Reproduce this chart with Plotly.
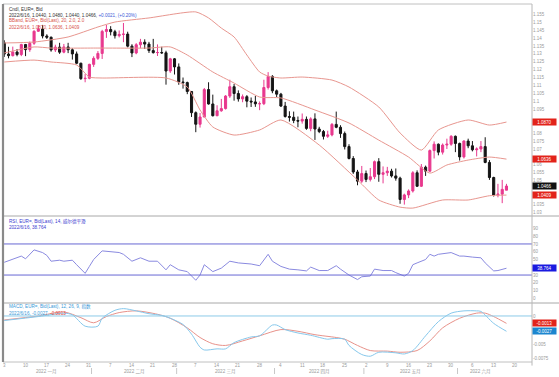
import numpy as np
import plotly.graph_objects as go

# ---------------- data ----------------
DATES = """2022-01-03 2022-01-04 2022-01-05 2022-01-06 2022-01-07 2022-01-10 2022-01-11 2022-01-12 2022-01-13 2022-01-14
2022-01-17 2022-01-18 2022-01-19 2022-01-20 2022-01-21 2022-01-24 2022-01-25 2022-01-26 2022-01-27 2022-01-28
2022-01-31 2022-02-01 2022-02-02 2022-02-03 2022-02-04 2022-02-07 2022-02-08 2022-02-09 2022-02-10 2022-02-11
2022-02-14 2022-02-15 2022-02-16 2022-02-17 2022-02-18 2022-02-21 2022-02-22 2022-02-23 2022-02-24 2022-02-25
2022-02-28 2022-03-01 2022-03-02 2022-03-03 2022-03-04 2022-03-07 2022-03-08 2022-03-09 2022-03-10 2022-03-11
2022-03-14 2022-03-15 2022-03-16 2022-03-17 2022-03-18 2022-03-21 2022-03-22 2022-03-23 2022-03-24 2022-03-25
2022-03-28 2022-03-29 2022-03-30 2022-03-31 2022-04-01 2022-04-04 2022-04-05 2022-04-06 2022-04-07 2022-04-08
2022-04-11 2022-04-12 2022-04-13 2022-04-14 2022-04-15 2022-04-18 2022-04-19 2022-04-20 2022-04-21 2022-04-22
2022-04-25 2022-04-26 2022-04-27 2022-04-28 2022-04-29 2022-05-02 2022-05-03 2022-05-04 2022-05-05 2022-05-06
2022-05-09 2022-05-10 2022-05-11 2022-05-12 2022-05-13 2022-05-16 2022-05-17 2022-05-18 2022-05-19 2022-05-20
2022-05-23 2022-05-24 2022-05-25 2022-05-26 2022-05-27 2022-05-30 2022-05-31 2022-06-01 2022-06-02 2022-06-03
2022-06-06 2022-06-07 2022-06-08 2022-06-09 2022-06-10 2022-06-13 2022-06-14 2022-06-15 2022-06-16""".split()

OPEN = [1.1370, 1.1299, 1.1289, 1.1312, 1.1296, 1.1359, 1.1327, 1.1367, 1.1443, 1.1457,
        1.1413, 1.1405, 1.1325, 1.1343, 1.1311, 1.1344, 1.1326, 1.1300, 1.1241, 1.1144,
        1.1146, 1.1234, 1.1272, 1.1303, 1.1442, 1.1454, 1.1440, 1.1415, 1.1423, 1.1425,
        1.1349, 1.1306, 1.1358, 1.1374, 1.1362, 1.1321, 1.1308, 1.1309, 1.1307, 1.1192,
        1.1269, 1.1218, 1.1123, 1.1119, 1.1063, 1.0929, 1.0856, 1.0902, 1.1075, 1.0984,
        1.0910, 1.0941, 1.0955, 1.1034, 1.1093, 1.1050, 1.1016, 1.1030, 1.1002, 1.0997,
        1.0985, 1.0986, 1.1088, 1.1158, 1.1067, 1.1046, 1.0971, 1.0905, 1.0900, 1.0880,
        1.0876, 1.0887, 1.0830, 1.0890, 1.0826, 1.0810, 1.0780, 1.0789, 1.0855, 1.0837,
        1.0797, 1.0715, 1.0640, 1.0555, 1.0497, 1.0545, 1.0508, 1.0525, 1.0620, 1.0540,
        1.0550, 1.0560, 1.0530, 1.0516, 1.0381, 1.0410, 1.0435, 1.0550, 1.0465, 1.0585,
        1.0560, 1.0690, 1.0730, 1.0680, 1.0725, 1.0730, 1.0780, 1.0735, 1.0650, 1.0750,
        1.0720, 1.0695, 1.0700, 1.0715, 1.0615, 1.0520, 1.0410, 1.0415, 1.0440]
HIGH = [1.1386, 1.1345, 1.1346, 1.1331, 1.1364, 1.1363, 1.1378, 1.1449, 1.1482, 1.1483,
        1.1424, 1.1410, 1.1358, 1.1370, 1.1363, 1.1370, 1.1336, 1.1315, 1.1245, 1.1173,
        1.1238, 1.1285, 1.1318, 1.1452, 1.1483, 1.1475, 1.1452, 1.1448, 1.1495, 1.1440,
        1.1361, 1.1368, 1.1395, 1.1392, 1.1376, 1.1395, 1.1360, 1.1345, 1.1320, 1.1275,
        1.1274, 1.1240, 1.1151, 1.1125, 1.1065, 1.0937, 1.0927, 1.1085, 1.1121, 1.1043,
        1.0976, 1.1016, 1.1040, 1.1137, 1.1110, 1.1070, 1.1044, 1.1040, 1.1025, 1.1035,
        1.1000, 1.1137, 1.1185, 1.1166, 1.1075, 1.1054, 1.0997, 1.0938, 1.0936, 1.0905,
        1.0924, 1.0905, 1.0900, 1.0925, 1.0840, 1.0820, 1.0815, 1.0864, 1.0936, 1.0850,
        1.0810, 1.0730, 1.0655, 1.0568, 1.0593, 1.0564, 1.0580, 1.0627, 1.0642, 1.0590,
        1.0587, 1.0575, 1.0577, 1.0525, 1.0418, 1.0445, 1.0560, 1.0565, 1.0605, 1.0595,
        1.0697, 1.0748, 1.0735, 1.0735, 1.0765, 1.0787, 1.0785, 1.0740, 1.0755, 1.0765,
        1.0750, 1.0710, 1.0750, 1.0774, 1.0630, 1.0525, 1.0480, 1.0505, 1.0480]
LOW = [1.1281, 1.1272, 1.1284, 1.1285, 1.1286, 1.1286, 1.1313, 1.1357, 1.1439, 1.1398,
       1.1394, 1.1314, 1.1312, 1.1300, 1.1304, 1.1305, 1.1264, 1.1235, 1.1136, 1.1121,
       1.1140, 1.1218, 1.1262, 1.1268, 1.1401, 1.1417, 1.1397, 1.1404, 1.1374, 1.1341,
       1.1280, 1.1298, 1.1336, 1.1331, 1.1306, 1.1302, 1.1287, 1.1300, 1.1106, 1.1180,
       1.1170, 1.1105, 1.1081, 1.1046, 1.0902, 1.0806, 1.0835, 1.0900, 1.0980, 1.0905,
       1.0907, 1.0935, 1.0949, 1.1022, 1.1005, 1.0999, 1.0995, 1.0963, 1.0965, 1.0966,
       1.0945, 1.0977, 1.1075, 1.1052, 1.1028, 1.0965, 1.0898, 1.0873, 1.0863, 1.0837,
       1.0860, 1.0821, 1.0812, 1.0757, 1.0800, 1.0760, 1.0770, 1.0780, 1.0831, 1.0770,
       1.0697, 1.0634, 1.0543, 1.0471, 1.0486, 1.0491, 1.0495, 1.0510, 1.0493, 1.0483,
       1.0530, 1.0520, 1.0500, 1.0354, 1.0349, 1.0390, 1.0425, 1.0460, 1.0460, 1.0530,
       1.0555, 1.0640, 1.0660, 1.0665, 1.0700, 1.0720, 1.0680, 1.0627, 1.0640, 1.0705,
       1.0685, 1.0653, 1.0680, 1.0610, 1.0505, 1.0400, 1.0395, 1.0358, 1.0440]
CLOSE = [1.1299, 1.1289, 1.1312, 1.1296, 1.1359, 1.1327, 1.1367, 1.1443, 1.1457, 1.1413,
         1.1405, 1.1325, 1.1343, 1.1311, 1.1344, 1.1326, 1.1300, 1.1241, 1.1144, 1.1146,
         1.1234, 1.1272, 1.1303, 1.1442, 1.1454, 1.1440, 1.1415, 1.1423, 1.1425, 1.1349,
         1.1306, 1.1358, 1.1374, 1.1362, 1.1321, 1.1308, 1.1309, 1.1307, 1.1192, 1.1269,
         1.1218, 1.1123, 1.1119, 1.1063, 1.0929, 1.0856, 1.0902, 1.1075, 1.0984, 1.0910,
         1.0941, 1.0955, 1.1034, 1.1093, 1.1050, 1.1016, 1.1030, 1.1002, 1.0997, 1.0985,
         1.0986, 1.1088, 1.1158, 1.1067, 1.1046, 1.0971, 1.0905, 1.0900, 1.0880, 1.0876,
         1.0887, 1.0830, 1.0890, 1.0826, 1.0810, 1.0780, 1.0789, 1.0855, 1.0837, 1.0797,
         1.0715, 1.0640, 1.0555, 1.0497, 1.0545, 1.0508, 1.0525, 1.0620, 1.0540, 1.0550,
         1.0560, 1.0530, 1.0516, 1.0381, 1.0410, 1.0435, 1.0550, 1.0465, 1.0585, 1.0560,
         1.0690, 1.0730, 1.0680, 1.0725, 1.0730, 1.0780, 1.0735, 1.0650, 1.0750, 1.0720,
         1.0695, 1.0700, 1.0715, 1.0615, 1.0520, 1.0410, 1.0415, 1.0445, 1.0466]

# Bollinger bands (20, 2.0) read at sample candles
BB_UP_IDX = [0, 7, 15, 22, 26, 34, 45, 48, 51, 54, 57, 60, 62, 65, 70, 77, 81, 88, 93, 98, 102, 109, 114, 118]
BB_UP = [1.1369, 1.1375, 1.1407, 1.1470, 1.1501, 1.1527, 1.1565, 1.1527, 1.1463, 1.1407, 1.1293, 1.1186,
         1.1160, 1.1148, 1.1154, 1.1135, 1.1091, 1.0965, 1.0801, 1.0693, 1.0820, 1.0883, 1.0851, 1.0870]
BB_MID_IDX = [0, 7, 11, 22, 34, 39, 43, 49, 54, 60, 65, 73, 81, 88, 95, 100, 104, 109, 114, 118]
BB_MID = [1.1306, 1.1344, 1.1337, 1.1337, 1.1337, 1.1344, 1.1293, 1.1186, 1.1116, 1.1028,
          1.1022, 1.0946, 1.0864, 1.0756, 1.0649, 1.0548, 1.0599, 1.0630, 1.0649, 1.0636]
BB_LOW_IDX = [0, 7, 11, 17, 20, 23, 38, 43, 46, 49, 54, 60, 65, 74, 83, 88, 93, 96, 103, 109, 114, 118]
BB_LOW = [1.1249, 1.1261, 1.1249, 1.1230, 1.1154, 1.1148, 1.1148, 1.1091, 1.0946, 1.0839, 1.0788,
          1.0820, 1.0883, 1.0725, 1.0504, 1.0378, 1.0333, 1.0327, 1.0378, 1.0378, 1.0405, 1.0409]

# RSI(14)
RSI_IDX = [0, 2, 4, 5, 7, 9, 10, 11, 13, 14, 16, 17, 19, 20, 21, 23, 25, 27, 28, 30, 32, 34, 36, 38, 39,
           41, 43, 45, 46, 47, 49, 51, 53, 55, 58, 60, 62, 63, 65, 67, 69, 71, 72, 74, 76, 78, 79, 81,
           83, 84, 86, 87, 89, 91, 92, 94, 95, 96, 97, 99, 100, 101, 102, 105, 107, 108, 110, 112,
           113, 115, 116, 118]
RSI_VAL = [46.4, 50.0, 54.4, 50.9, 62.4, 58.9, 55.3, 47.8, 49.1, 47.8, 49.1, 43.3, 32.2, 41.1, 50.0,
           61.1, 59.7, 59.0, 56.7, 47.8, 52.2, 47.8, 47.8, 36.7, 43.3, 36.7, 34.4, 23.3, 30.0, 43.3,
           34.4, 38.9, 47.8, 45.6, 44.2, 42.0, 56.7, 47.8, 41.1, 37.6, 36.7, 35.3, 40.2, 35.8, 35.8,
           42.0, 37.6, 30.0, 24.2, 27.8, 28.7, 37.6, 35.8, 35.8, 33.1, 28.7, 32.2, 43.3, 45.6, 50.0,
           56.7, 54.4, 56.7, 58.9, 54.4, 54.4, 53.1, 52.2, 45.6, 35.3, 35.8, 38.764]

# MACD(12, 26, 9)
MACD_IDX = [0, 8, 14, 16, 19, 22, 23, 26, 28, 31, 34, 37, 39, 42, 44, 46, 47, 50, 52, 54, 58, 60, 63,
            64, 66, 69, 72, 76, 77, 80, 81, 84, 86, 88, 92, 94, 96, 99, 102, 105, 108, 111, 112, 115, 118]
MACD_VAL = [-0.0008, -0.0001, 0.0005, 0.0002, -0.0018, -0.0018, -0.0004, 0.0010, 0.0013, 0.0009,
            0.0004, 0.0001, -0.0004, -0.0015, -0.0032, -0.0055, -0.0060, -0.0058, -0.0058, -0.0047,
            -0.0037, -0.0035, -0.0016, -0.0016, -0.0024, -0.0030, -0.0034, -0.0041, -0.0040, -0.0041,
            -0.0052, -0.0068, -0.0071, -0.0064, -0.0065, -0.0067, -0.0061, -0.0035, -0.0010, 0.0005,
            0.0009, 0.0009, 0.0008, -0.0013, -0.0027]
SIG_IDX = [0, 8, 14, 18, 21, 24, 27, 31, 36, 39, 43, 46, 49, 52, 56, 60, 65, 69, 73, 78, 80, 83, 86,
           90, 93, 97, 100, 103, 107, 111, 113, 115, 118]
SIG_VAL = [-0.0007, 0.0000, 0.0007, -0.0003, -0.0012, -0.0001, 0.0006, 0.0009, 0.0003, -0.0004,
           -0.0021, -0.0038, -0.0049, -0.0052, -0.0044, -0.0035, -0.0024, -0.0027, -0.0033, -0.0038,
           -0.0041, -0.0052, -0.0061, -0.0062, -0.0064, -0.0061, -0.0044, -0.0021, -0.0004, 0.0005,
           0.0005, -0.0001, -0.0013]

TICK_DATES = ["2022-01-03", "2022-01-10", "2022-01-17", "2022-01-24", "2022-01-31", "2022-02-07",
              "2022-02-14", "2022-02-21", "2022-02-28", "2022-03-07", "2022-03-14", "2022-03-21",
              "2022-03-28", "2022-04-04", "2022-04-11", "2022-04-18", "2022-04-25", "2022-05-02",
              "2022-05-09", "2022-05-16", "2022-05-23", "2022-05-30", "2022-06-06", "2022-06-13",
              "2022-06-20"]
TICK_TEXT = ["3", "10", "17", "24", "31", "7", "14", "21", "28", "7", "14", "21", "28", "4", "11",
             "18", "25", "2", "9", "16", "23", "30", "6", "13", "20"]
MONTH_KEYS = ["2022-01", "2022-02", "2022-03", "2022-04", "2022-05", "2022-06"]
MONTH_LABELS = ["2022 一月", "2022 二月", "2022 三月", "2022 四月", "2022 五月", "2022 六月"]

# axis labels left visible (the ones under the value tags are covered in the reference)
PRICE_TICKS = [1.03, 1.035, 1.05, 1.055, 1.06, 1.07, 1.075, 1.08, 1.095,
               1.1, 1.105, 1.11, 1.115, 1.12, 1.125, 1.13, 1.135, 1.14, 1.145, 1.15, 1.155]
RSI_TICKS = [0, 10, 20, 30, 50, 60, 70, 80, 90]
MACD_TICKS = [0, -0.005, -0.0075]
MACD_TICK_TEXT = ["0", "-0.005", "-0.0075"]

# ---------------- figure ----------------
IDX = list(range(len(DATES)))
XMIN, XMAX = -0.3, 124.0
D_MAIN = [0.4078, 1.0]
D_RSI = [0.1648, 0.4078]
D_MACD = [0.0, 0.1648]

PINK = "#e8388e"
BLACK = "#151515"
BAND = "#e8968f"
RSI_C = "#8a8ae0"
RSI_BAND = "#6868d4"
MACD_C = "#86c8ec"
SIG_C = "#e8928a"
ZERO_C = "#8ccae8"
FONT = "Liberation Sans, Noto Sans CJK SC, sans-serif"
GREY = "#9a9a9a"

fig = go.Figure()

for xs, ys in [(BB_UP_IDX, BB_UP), (BB_MID_IDX, BB_MID), (BB_LOW_IDX, BB_LOW)]:
    fig.add_trace(go.Scatter(x=xs, y=ys, mode="lines", line=dict(color=BAND, width=1, shape="spline", smoothing=0.6),
                             xaxis="x", yaxis="y", hoverinfo="skip", showlegend=False))

fig.add_trace(go.Candlestick(
    x=IDX, open=OPEN, high=HIGH, low=LOW, close=CLOSE,
    increasing=dict(line=dict(color=PINK, width=1), fillcolor=PINK),
    decreasing=dict(line=dict(color=BLACK, width=1), fillcolor=BLACK),
    whiskerwidth=0, xaxis="x", yaxis="y", hoverinfo="skip", showlegend=False))

fig.add_trace(go.Scatter(x=RSI_IDX, y=RSI_VAL, mode="lines", line=dict(color=RSI_C, width=1),
                         xaxis="x", yaxis="y2", hoverinfo="skip", showlegend=False))
fig.add_trace(go.Scatter(x=SIG_IDX, y=SIG_VAL, mode="lines",
                         line=dict(color=SIG_C, width=1, shape="spline", smoothing=0.8),
                         xaxis="x", yaxis="y3", hoverinfo="skip", showlegend=False))
fig.add_trace(go.Scatter(x=MACD_IDX, y=MACD_VAL, mode="lines",
                         line=dict(color=MACD_C, width=1, shape="spline", smoothing=0.8),
                         xaxis="x", yaxis="y3", hoverinfo="skip", showlegend=False))

tick_pos = [int(np.busday_count(DATES[0], d)) for d in TICK_DATES]

axis_common = dict(side="right", showgrid=False, zeroline=False, showline=False, ticks="",
                   tickfont=dict(size=4.5, color=GREY, family=FONT), anchor="x", fixedrange=True)

fig.update_layout(
    width=559, height=377,
    margin=dict(l=3, r=27, t=4, b=15),
    paper_bgcolor="white", plot_bgcolor="white",
    hovermode=False, showlegend=False,
    font=dict(family=FONT, size=5),
    xaxis=dict(range=[XMIN, XMAX], anchor="y3", showgrid=False, zeroline=False, showline=False,
               ticks="", showticklabels=False,
               rangeslider=dict(visible=False), fixedrange=True),
    yaxis=dict(domain=D_MAIN, range=[1.0277, 1.1615], tickvals=PRICE_TICKS,
               ticktext=[f"{v:g}" for v in PRICE_TICKS], **axis_common),
    yaxis2=dict(domain=D_RSI, range=[-6, 106], tickvals=RSI_TICKS,
                ticktext=[str(v) for v in RSI_TICKS], **axis_common),
    yaxis3=dict(domain=D_MACD, range=[-0.00812, 0.00229], tickvals=MACD_TICKS,
                ticktext=MACD_TICK_TEXT, **axis_common),
)

shapes = []
# RSI 70/30 and MACD zero
shapes.append(dict(type="line", xref="paper", x0=0, x1=1, yref="y2", y0=70, y1=70, line=dict(color=RSI_BAND, width=1)))
shapes.append(dict(type="line", xref="paper", x0=0, x1=1, yref="y2", y0=30, y1=30, line=dict(color=RSI_BAND, width=1)))
shapes.append(dict(type="line", xref="paper", x0=0, x1=1, yref="y3", y0=0, y1=0, line=dict(color=ZERO_C, width=1)))
# frame and separators
for yv in [D_RSI[1], D_MACD[1]]:
    shapes.append(dict(type="line", xref="paper", x0=0, x1=1.052, yref="paper", y0=yv, y1=yv,
                       line=dict(color="#a8a8a8", width=1)))
shapes.append(dict(type="line", xref="paper", x0=0, x1=1, yref="paper", y0=1, y1=1, line=dict(color="#c0c0c0", width=1)))
shapes.append(dict(type="line", xref="paper", x0=0, x1=1, yref="paper", y0=0, y1=0, line=dict(color="#c0c0c0", width=1)))
shapes.append(dict(type="line", xref="paper", x0=1, x1=1, yref="paper", y0=-0.01, y1=1, line=dict(color="#b8b8b8", width=1)))
shapes.append(dict(type="line", xref="paper", x0=0, x1=0, yref="paper", y0=0, y1=1, line=dict(color="#8a8a8a", width=2.2)))
# month separators on the date axis
months = [d[:7] for d in DATES]
for k in range(1, len(MONTH_KEYS)):
    first = months.index(MONTH_KEYS[k])
    shapes.append(dict(type="line", xref="x", x0=first - 0.5, x1=first - 0.5, yref="paper",
                       y0=(362 - 368) / 358, y1=(362 - 374) / 358,
                       line=dict(color="#c8c8c8", width=1)))
fig.update_layout(shapes=shapes)

ann = []
def txt(x_px, y_px, text, color, size=4.6):
    ann.append(dict(xref="paper", yref="paper", x=(x_px - 3) / 529, y=(362 - y_px) / 358,
                    xanchor="left", yanchor="middle", text=text, showarrow=False,
                    font=dict(size=size, color=color, family=FONT)))

txt(7, 9, "Cndl, EUR=, Bid", "#333333")
txt(7, 15, "2022/6/16, 1.0440, 1.0480, 1.0440, 1.0466, <span style='color:#3c5ad8'>+0.0021, (+0.20%)</span>", "#333333")
txt(7, 21, "BBand, EUR=, Bid(Last), 20, 2.0, 2.0", "#d9544c")
txt(7, 27, "2022/6/16, 1.0870, 1.0636, 1.0409", "#d9544c")
txt(7, 221, "RSI, EUR=, Bid(Last), 14, 威尔德平滑", "#3b3bcf")
txt(7, 227, "2022/6/16, 38.764", "#3b3bcf")
txt(7, 306, "MACD, EUR=, Bid(Last), 12, 26, 9, 指数", "#3a9ad8")
txt(7, 313, "2022/6/16, <span style='color:#3a9ad8'>-0.0027</span>, <span style='color:#e0453c'>-0.0013</span>", "#3a9ad8")

# day-of-month tick labels (Mondays)
for pos, lab in zip(tick_pos, TICK_TEXT):
    ann.append(dict(xref="x", yref="paper", x=pos, y=(362 - 365.5) / 358, xanchor="center", yanchor="middle",
                    text=lab, showarrow=False, font=dict(size=4.5, color=GREY, family=FONT)))

# month labels
for key, lab in zip(MONTH_KEYS, MONTH_LABELS):
    first = months.index(key)
    last = len(months) - 1 - months[::-1].index(key)
    if key == MONTH_KEYS[-1]:
        last = XMAX - 7
    ann.append(dict(xref="x", yref="paper", x=(first + last) / 2, y=(362 - 371.5) / 358,
                    xanchor="center", yanchor="middle",
                    text=lab, showarrow=False, font=dict(size=4.6, color=GREY, family=FONT)))

# value tags on the right axis
def tag(yref, val, text, bg):
    ann.append(dict(xref="paper", yref=yref, x=1.0, y=val, xanchor="left", yanchor="middle", text=text,
                    showarrow=False, bgcolor=bg, width=23, height=6, borderpad=0, align="center",
                    font=dict(size=4.5, color="white", family=FONT)))

tag("y", BB_UP[-1], "1.0870", "#e2231a")
tag("y", BB_MID[-1], "1.0636", "#e2231a")
tag("y", CLOSE[-1], "1.0466", "#111111")
tag("y", BB_LOW[-1], "1.0409", "#e2231a")
tag("y2", RSI_VAL[-1], "38.764", "#1a1ae0")
tag("y3", SIG_VAL[-1], "-0.0013", "#e2231a")
tag("y3", MACD_VAL[-1], "-0.0027", "#1c86cf")

fig.update_layout(annotations=ann)
fig.write_html("out.html",
               config={"displayModeBar": False, "staticPlot": True},
               post_script="document.body.style.margin='0px';document.body.style.padding='0px';"
                           "document.body.style.overflow='hidden';")
